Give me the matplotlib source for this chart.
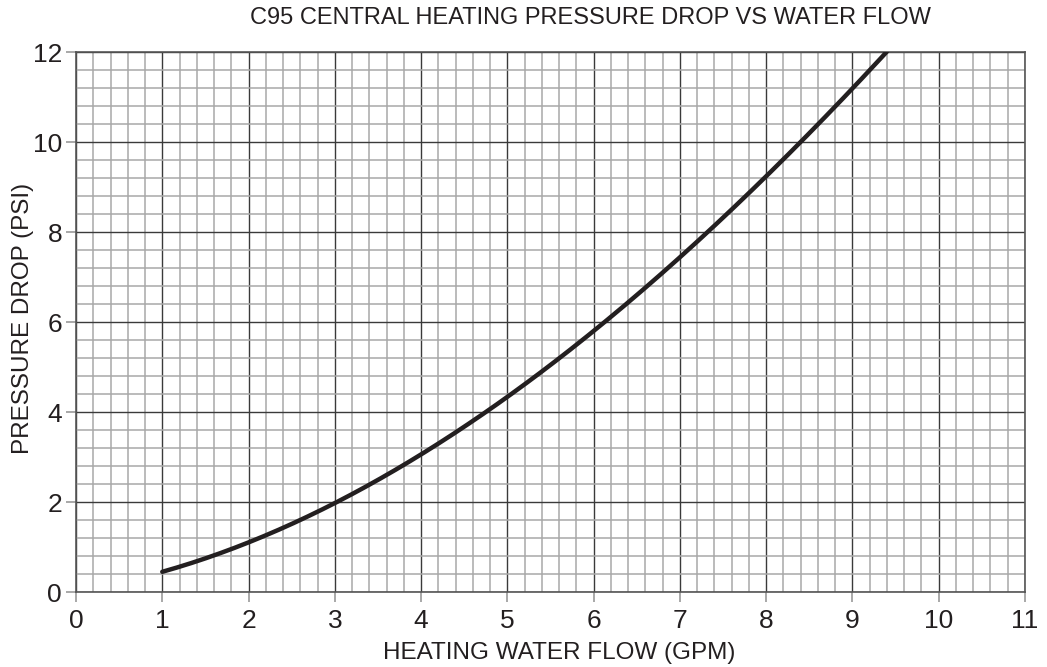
import numpy as np
import matplotlib
matplotlib.use("Agg")
import matplotlib.pyplot as plt
from matplotlib.ticker import MultipleLocator

plt.rcParams['font.family'] = ['Liberation Sans', 'DejaVu Sans']

# curve
flow_gpm = [1.0, 2.0, 3.0, 4.0, 5.0, 6.0, 7.0, 8.0, 8.4, 9.0, 9.4]
drop_psi = [0.44, 1.11, 2.0, 3.04, 4.31, 5.82, 7.44, 9.24, 10.0, 11.2, 12.0]

x_ticks = list(range(0, 12))
y_ticks = [0, 2, 4, 6, 8, 10, 12]

W, H = 1047, 667
fig = plt.figure(figsize=(W / 100, H / 100), dpi=100)
ax = fig.add_axes([76 / W, 1 - 592 / H, (1025 - 76) / W, (592 - 52) / H])

# smooth the read points with a cubic fit for drawing
coef = np.polyfit(flow_gpm, drop_psi, 3)
xs = np.linspace(flow_gpm[0], flow_gpm[-1], 200)
ax.plot(xs, np.polyval(coef, xs), color="#231f20", lw=3.2, solid_capstyle="round", zorder=5)

ax.set_xlim(0, 11)
ax.set_ylim(0, 12)
ax.set_xticks(x_ticks)
ax.set_yticks(y_ticks)
ax.xaxis.set_minor_locator(MultipleLocator(0.2))
ax.yaxis.set_minor_locator(MultipleLocator(0.4))

ax.grid(which="minor", color="#a8a8a8", lw=1.1)
ax.grid(which="major", color="#3a3a3a", lw=1.0)
ax.set_axisbelow(True)

for s in ax.spines.values():
    s.set_color("#555555")
    s.set_linewidth(1.2)

ax.tick_params(which="major", length=7, width=1.2, color="#999999",
               labelsize=19, labelcolor="#231f20")
ax.tick_params(axis="x", pad=5)
ax.tick_params(axis="y", pad=3)
ax.tick_params(which="minor", length=0)

txt = "#231f20"
fig.text(559 / W, 1 - 653 / H, "HEATING WATER FLOW (GPM)",
         ha="center", va="center", fontsize=17.5, color=txt)
fig.text(23 / W, 1 - 318 / H, "PRESSURE DROP (PSI)", rotation=90,
         ha="center", va="center", fontsize=17.5, color=txt)
fig.text(590 / W, 1 - 18 / H, "C95 CENTRAL HEATING PRESSURE DROP VS WATER FLOW",
         ha="center", va="center", fontsize=17, color=txt)

fig.savefig("out.png", dpi=100)
